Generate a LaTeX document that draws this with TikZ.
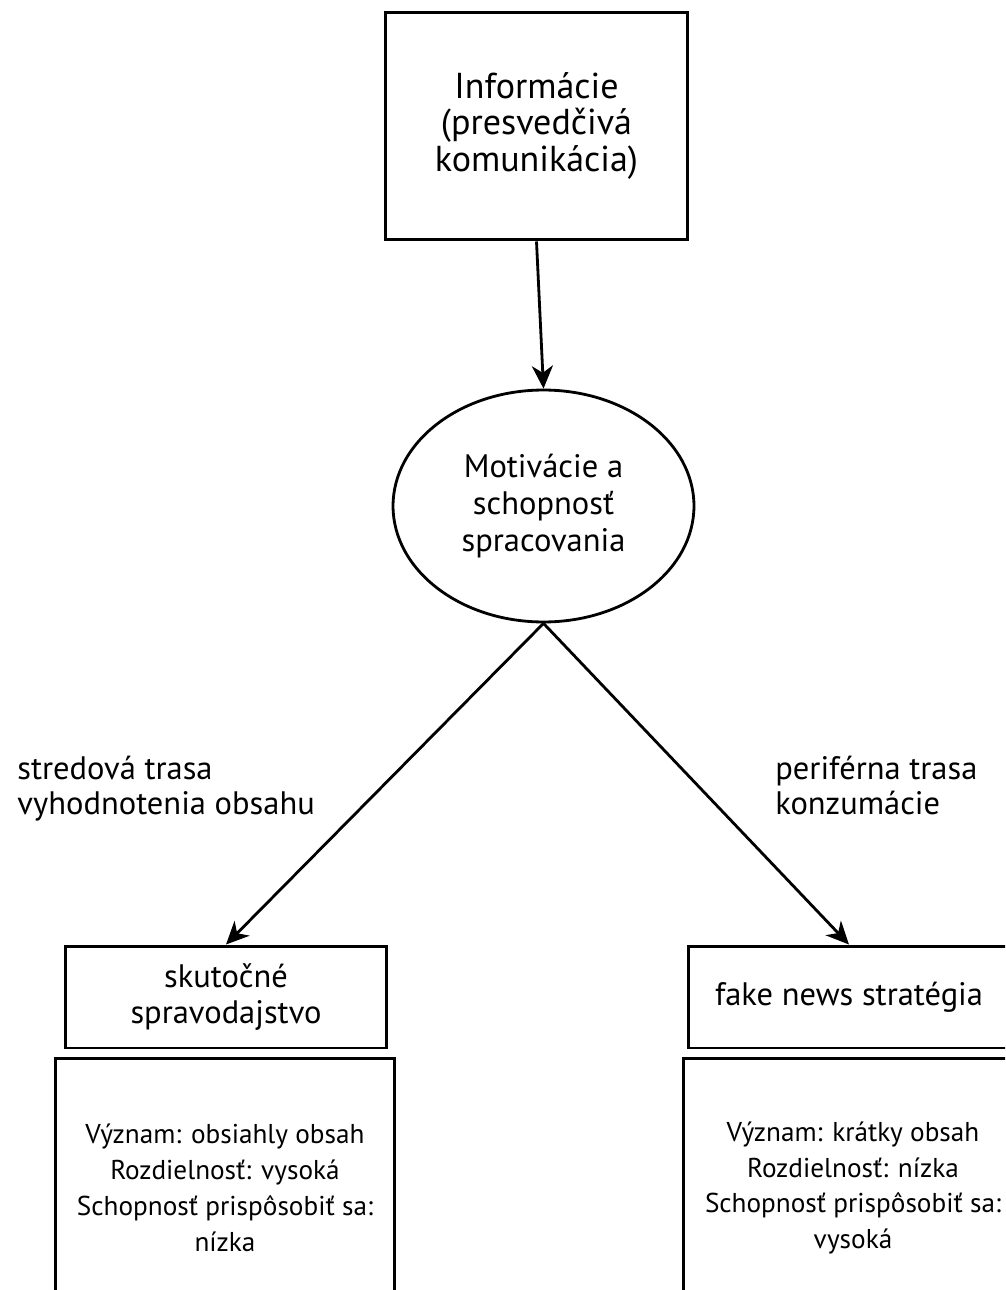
\documentclass[tikz,border=0pt]{standalone}
\usepackage{fontspec}
\setmainfont{PT Sans}
\usetikzlibrary{arrows.meta,positioning,shapes.geometric}
\tikzset{
  >={Stealth[length=13pt,width=12pt,inset=4pt]},
  txt/.style={font=\fontsize{18.5}{21}\selectfont},
  small/.style={font=\fontsize{15.5}{20.4}\selectfont},
  box/.style={draw, line width=1.7pt, rectangle, align=center, inner sep=0pt, txt},
  oval/.style={draw, line width=1.6pt, ellipse, align=center, inner sep=0pt, txt},
  route/.style={align=left, inner sep=0pt, anchor=north west, font=\fontsize{18.5}{20}\selectfont},
  conn/.style={->, line width=1.6pt},
}

\begin{document}
\begin{tikzpicture}[x=0.02cm, y=-0.02cm]
    \useasboundingbox (0,0) rectangle (1005,1290);
    \clip (0,0) rectangle (1005,1290);

    % nodes
    \node[box, minimum width=6.06cm, minimum height=4.56cm, font=\fontsize{20.5}{21}\selectfont]
      (info) at (536.5,126) {Informácie\\(presvedčivá\\komunikácia)};
    \node[oval, minimum width=6.02cm, minimum height=4.64cm]
      (moti) at (543.5,506) {Motivácie a\\schopnosť\\spracovania};

    \node[box, minimum width=6.44cm, minimum height=2.04cm] (skut) at (226,997) {skutočné\\spravodajstvo};
    \node[box, minimum width=6.44cm, minimum height=2.04cm] (fake) at (849,997) {fake news stratégia};

    \node[box, small, minimum width=6.8cm, minimum height=5.2cm] (skutinfo) at (225,1188)
      {Význam: obsiahly obsah\\Rozdielnosť: vysoká\\Schopnosť prispôsobiť sa:\\nízka};
    \node[box, small, minimum width=6.8cm, minimum height=5.2cm] (fakeinfo) at (853,1188)
      {Význam: krátky obsah\\Rozdielnosť: nízka\\Schopnosť prispôsobiť sa:\\vysoká};

    % route labels
    \node[route] (central) at (17,756) {stredová trasa\\vyhodnotenia obsahu};
    \node[route] (peri) at (775,756) {periférna trasa\\konzumácie};

    % arrows
    \draw[conn] (info.south) -- (moti.north);
    \draw[conn] (moti.south) -- (skut.north);
    \draw[conn] (moti.south) -- (fake.north);
  \end{tikzpicture}
\end{document}
